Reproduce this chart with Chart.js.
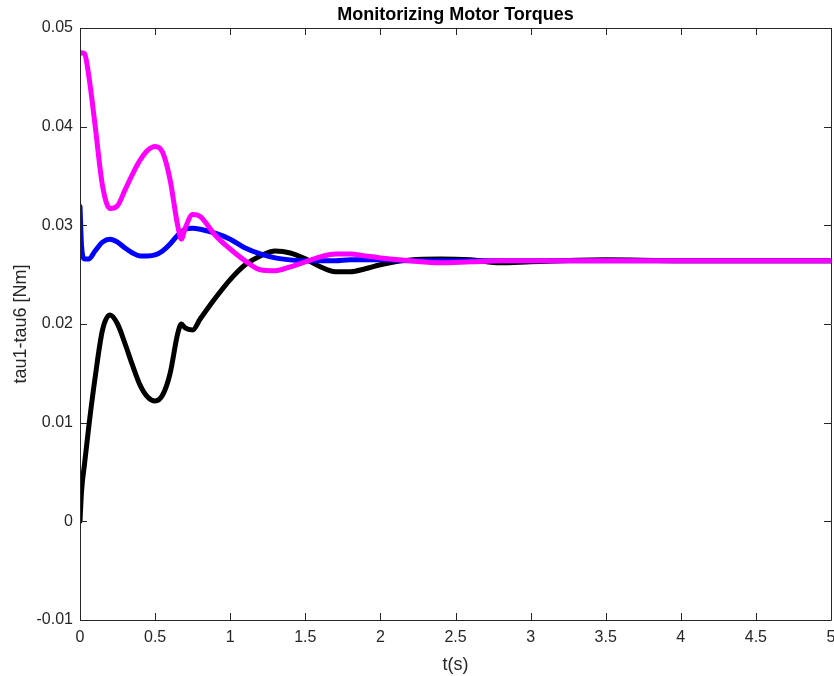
<!DOCTYPE html>
<html>
<head>
<meta charset="utf-8">
<title>Monitorizing Motor Torques</title>
<script src="https://cdn.jsdelivr.net/npm/chart.js@4/dist/chart.umd.min.js"></script>
<style>
    html, body { margin: 0; padding: 0; background: #fff; }
    #wrap { width: 834px; height: 676px; }
</style>
</head>
<body>
<div id="wrap"><canvas id="chartTorques" width="834" height="676"></canvas></div>
<script>
// time samples (s)
const tempo = [0, 0.01, 0.03, 0.06, 0.1, 0.15, 0.2, 0.25, 0.3, 0.35, 0.4, 0.45, 0.5, 0.55, 0.6, 0.65, 0.675,
    0.7, 0.75, 0.8, 0.9, 1.0, 1.1, 1.2, 1.3, 1.4, 1.5, 1.6, 1.7, 1.8, 1.9, 2.0, 2.2, 2.4, 2.6, 2.8, 3.0,
    3.5, 4.0, 4.5, 5.0];

// torque series (Nm)
const tauMagenta = [0.0474, 0.0475, 0.0474, 0.0450, 0.0402, 0.0340, 0.0317, 0.0320, 0.0336, 0.0352, 0.0366,
    0.0376, 0.0380, 0.0374, 0.0346, 0.0300, 0.0286, 0.0297, 0.0311, 0.0309, 0.0290, 0.0276, 0.0264, 0.0255,
    0.0254, 0.0258, 0.0263, 0.0268, 0.0271, 0.0271, 0.0269, 0.0267, 0.0264, 0.0262, 0.0263, 0.0264, 0.0264,
    0.0264, 0.0264, 0.0264, 0.0264];
const tauAzul = [0.0319, 0.0280, 0.0266, 0.0266, 0.0274, 0.0283, 0.0286, 0.0283, 0.0277, 0.0272, 0.0269,
    0.0269, 0.0270, 0.0274, 0.0281, 0.0290, 0.0293, 0.0296, 0.0297, 0.0296, 0.0292, 0.0286, 0.0277, 0.0271,
    0.0267, 0.0265, 0.0264, 0.0264, 0.0264, 0.0265, 0.0265, 0.0265, 0.0264, 0.0264, 0.0264, 0.0264, 0.0264,
    0.0264, 0.0264, 0.0264, 0.0264];
const tauPreto = [0.0000, 0.0030, 0.0058, 0.0098, 0.0145, 0.0194, 0.0209, 0.0200, 0.0180, 0.0158, 0.0138,
    0.0126, 0.0122, 0.0128, 0.0150, 0.0190, 0.0200, 0.0196, 0.0194, 0.0205, 0.0226, 0.0245, 0.0260, 0.0269,
    0.0274, 0.0272, 0.0266, 0.0258, 0.0253, 0.0253, 0.0256, 0.0260, 0.0265, 0.0266, 0.0265, 0.0262, 0.0263,
    0.0265, 0.0264, 0.0264, 0.0264];

// tick labels
const xTicks = [0, 0.5, 1, 1.5, 2, 2.5, 3, 3.5, 4, 4.5, 5];
const yTicks = [-0.01, 0, 0.01, 0.02, 0.03, 0.04, 0.05];

const corEixo = '#262626';
const fonte = 'Arial, "Liberation Sans", Helvetica, sans-serif';

(function() {
    'use strict';

    function pontos(valores) {
        return tempo.map((t, i) => ({ x: t, y: valores[i] }));
    }

    function serie(valores, cor, ordem) {
        return {
            data: pontos(valores),
            borderColor: cor,
            backgroundColor: cor,
            borderWidth: 5,
            pointRadius: 0,
            cubicInterpolationMode: 'monotone',
            borderCapStyle: 'round',
            borderJoinStyle: 'round',
            fill: false,
            order: ordem
        };
    }

    // box around the axes with inward ticks on all four sides, plus title
    const caixaMatlab = {
        id: 'caixaMatlab',
        afterDraw(chart) {
            const { ctx, chartArea: a, scales } = chart;
            const tl = 7;
            ctx.save();
            ctx.strokeStyle = corEixo;
            ctx.lineWidth = 1;
            ctx.beginPath();
            ctx.rect(Math.round(a.left) + 0.5, Math.round(a.top) + 0.5,
                Math.round(a.right - a.left), Math.round(a.bottom - a.top));
            ctx.stroke();

            ctx.beginPath();
            xTicks.forEach(v => {
                const px = Math.round(scales.x.getPixelForValue(v)) + 0.5;
                ctx.moveTo(px, a.bottom); ctx.lineTo(px, a.bottom - tl);
                ctx.moveTo(px, a.top); ctx.lineTo(px, a.top + tl);
            });
            yTicks.forEach(v => {
                const py = Math.round(scales.y.getPixelForValue(v)) + 0.5;
                ctx.moveTo(a.left, py); ctx.lineTo(a.left + tl, py);
                ctx.moveTo(a.right, py); ctx.lineTo(a.right - tl, py);
            });
            ctx.stroke();

            ctx.fillStyle = '#000';
            ctx.font = 'bold 18px ' + fonte;
            ctx.textAlign = 'center';
            ctx.textBaseline = 'middle';
            ctx.fillText('Monitorizing Motor Torques', (a.left + a.right) / 2, 15);
            ctx.restore();
        }
    };

    function fixarTicks(lista) {
        return function(scale) {
            scale.ticks = lista.map(v => ({ value: v }));
        };
    }

    new Chart(document.getElementById('chartTorques').getContext('2d'), {
        type: 'line',
        data: {
            datasets: [
                serie(tauMagenta, '#ff00ff', 0),
                serie(tauAzul, '#0000ff', 1),
                serie(tauPreto, '#000000', 2)
            ]
        },
        options: {
            responsive: false,
            animation: false,
            events: [],
            layout: { padding: { top: 28, right: 3, left: 0, bottom: 0 } },
            plugins: {
                legend: { display: false },
                title: { display: false },
                tooltip: { enabled: false }
            },
            scales: {
                x: {
                    type: 'linear',
                    min: 0,
                    max: 5,
                    afterBuildTicks: fixarTicks(xTicks),
                    afterFit: function(scale) {
                        scale.height = 56;
                        scale.paddingLeft = 0;
                        scale.paddingRight = 0;
                    },
                    grid: { display: false, drawTicks: false },
                    border: { display: false },
                    ticks: {
                        color: corEixo,
                        font: { family: fonte, size: 16 },
                        padding: 8,
                        maxRotation: 0,
                        autoSkip: false,
                        callback: v => String(v)
                    },
                    title: {
                        display: true,
                        text: 't(s)',
                        color: corEixo,
                        font: { family: fonte, size: 18 },
                        padding: { top: 0, bottom: 0 }
                    }
                },
                y: {
                    type: 'linear',
                    min: -0.01,
                    max: 0.05,
                    afterBuildTicks: fixarTicks(yTicks),
                    afterFit: function(scale) {
                        scale.width = 80;
                        scale.paddingTop = 0;
                        scale.paddingBottom = 0;
                    },
                    grid: { display: false, drawTicks: false },
                    border: { display: false },
                    ticks: {
                        color: corEixo,
                        font: { family: fonte, size: 16 },
                        padding: 7,
                        autoSkip: false,
                        callback: v => String(v)
                    },
                    title: {
                        display: true,
                        text: 'tau1-tau6 [Nm]',
                        color: corEixo,
                        font: { family: fonte, size: 18 },
                        padding: { top: 10, bottom: 0 }
                    }
                }
            }
        },
        plugins: [caixaMatlab]
    });
})();
</script>
</body>
</html>
